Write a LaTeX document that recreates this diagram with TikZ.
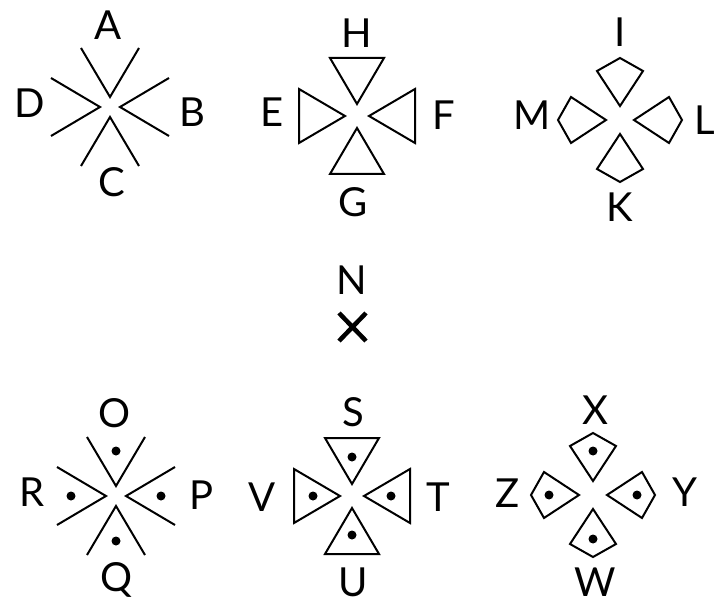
\documentclass[tikz,border=0pt]{standalone}
\usepackage{fontspec}
\setmainfont{Lato}
\usepackage{tikz}
\usetikzlibrary{positioning}

\begin{document}
\begin{tikzpicture}[x=1pt,y=-1pt,
  every node/.style={font=\fontsize{40}{40}\selectfont},
  lbl/.style={inner sep=0pt},
  glyph/.style={line width=2pt,line join=miter,black},
  pip/.style={fill=black}]
\useasboundingbox (0,0) rectangle (720,612);
% grid without and with dots: open angles
\foreach \cx/\cy in {110/107,116/496}
  \foreach \a in {0,90,180,270}
    \draw[glyph,shift={(\cx,\cy)},rotate=\a] (-29,-59) -- (0,-10) -- (29,-59);
% triangles
\foreach \cx/\cy in {357/116,352/496}
  \foreach \a in {0,90,180,270}
    \draw[glyph,shift={(\cx,\cy)},rotate=\a] (-27,-58) -- (0,-12) -- (27,-58) -- cycle;
% kites
\foreach \cx/\cy in {620/120,593/495}
  \foreach \a in {0,90,180,270}
    \draw[glyph,shift={(\cx,\cy)},rotate=\a] (0,-14) -- (-23,-49) -- (0,-62) -- (23,-49) -- cycle;
% dots of the lower row
\foreach \cx/\cy/\r in {116/496/45,352/496/39,593/495/44}
  \foreach \a in {0,90,180,270}
    \fill[pip,shift={(\cx,\cy)},rotate=\a] (0,-\r) circle (4.5pt);
% the lone cross
\coordinate (xa) at (339,313);
\coordinate (xb) at (366,341);
\coordinate (xc) at (366,313);
\coordinate (xd) at (339,341);
\draw[line width=4.5pt] (xa) -- (xb) (xc) -- (xd);
% letters
\foreach \n/\x/\y in {
  A/108/25, B/192/112, C/112/182, D/30/103,
  H/357/33, F/444/115, G/353/202, E/272/112,
  I/620/32, L/705/120, K/620/207, M/532/115,
  N/352/280,
  O/115/413, P/202/495, Q/117/580, R/32/492,
  S/353/412, T/438/497, U/353/582, V/262/497,
  X/595/410, Y/685/492, W/595/582, Z/508/493}
  \node[lbl] (l\n) at (\x,\y) {\n};
\end{tikzpicture}
\end{document}
